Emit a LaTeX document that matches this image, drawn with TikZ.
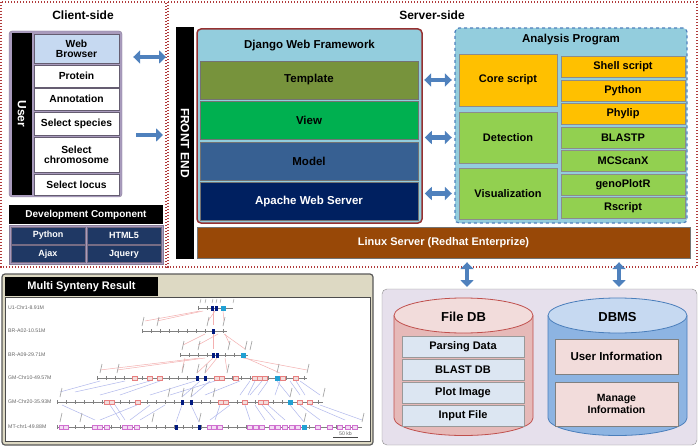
\documentclass[tikz,border=0pt]{standalone}
\usepackage{fontspec}
\setmainfont{Liberation Sans}
\usetikzlibrary{arrows.meta}

\definecolor{framered}{HTML}{B03A3A}
\definecolor{arrowblue}{HTML}{4F81BD}
\definecolor{skyfill}{HTML}{93CDDD}
\definecolor{olive}{HTML}{77933C}
\definecolor{vgreen}{HTML}{00B050}
\definecolor{steel}{HTML}{376092}
\definecolor{navy}{HTML}{002060}
\definecolor{rust}{HTML}{984807}
\definecolor{gold}{HTML}{FFC000}
\definecolor{lime}{HTML}{92D050}
\definecolor{lavender}{HTML}{E6E0EC}
\definecolor{lavgray}{HTML}{A99BBD}
\definecolor{devnavy}{HTML}{1F3864}
\definecolor{beige}{HTML}{DDD9C3}
\definecolor{wbblue}{HTML}{C6D9F1}
\definecolor{fdbbody}{HTML}{E6B9B8}
\definecolor{fdbtop}{HTML}{F2DCDB}
\definecolor{fdbedge}{HTML}{C0504D}
\definecolor{dbmsbody}{HTML}{8DB4E2}
\definecolor{dbmstop}{HTML}{C6D9F1}
\definecolor{dbmsedge}{HTML}{4A7EBB}
\definecolor{fileblue}{HTML}{DCE6F2}
\definecolor{genepink}{HTML}{E88080}
\definecolor{geneviolet}{HTML}{D070D0}
\definecolor{linkpink}{HTML}{F4B0B0}
\definecolor{linkblue}{HTML}{B0B8EC}

\tikzset{
  frame/.style={draw=framered, line width=1.2pt, dash pattern=on 1.2pt off 1.8pt},
  title/.style={font=\bfseries\fontsize{12}{14}\selectfont},
  subtitle/.style={font=\bfseries\fontsize{11.5}{13}\selectfont},
  bar/.style={fill=black, text=white, inner sep=0pt, rotate=-90,
    font=\bfseries\fontsize{12}{14}\selectfont},
  panel/.style={fill=lavgray, draw=lavgray!80!black, rounded corners=3pt, inner sep=0pt},
  item/.style={draw=lavgray!60!black, fill=white, minimum width=85, inner sep=0pt,
    align=center, font=\bfseries\fontsize{10.3}{12}\selectfont},
  devtitle/.style={fill=black, text=white, minimum width=154, minimum height=19,
    inner sep=0pt, font=\bfseries\fontsize{10}{12}\selectfont},
  devcell/.style={fill=devnavy, draw=lavgray!70!black, text=white, minimum width=74,
    minimum height=17, inner sep=0pt, font=\bfseries\fontsize{9}{10}\selectfont},
  layer/.style={draw=black!55, minimum width=218, minimum height=38, inner sep=0pt,
    font=\bfseries\fontsize{11.5}{13}\selectfont},
  task/.style={draw=black!45, minimum width=98, inner sep=0pt,
    font=\bfseries\fontsize{11}{13}\selectfont},
  tool/.style={draw=black!45, minimum width=124, minimum height=21, inner sep=0pt,
    font=\bfseries\fontsize{11}{13}\selectfont},
  dbtitle/.style={font=\bfseries\fontsize{13}{15}\selectfont},
  fileitem/.style={draw=black!40, fill=fileblue, minimum width=122, minimum height=21,
    inner sep=0pt, font=\bfseries\fontsize{11}{13}\selectfont},
  dbitem/.style={draw=black!50, fill=fdbtop, minimum width=123, inner sep=0pt,
    align=center, font=\bfseries\fontsize{11.5}{13}\selectfont},
  dblarrow/.style={draw=arrowblue, line width=4.5pt,
    {Triangle[length=7pt,width=13pt]}-{Triangle[length=7pt,width=13pt]}},
  onearrow/.style={draw=arrowblue, line width=4.5pt, -{Triangle[length=7pt,width=13pt]}},
  chrlabel/.style={text=black!60, inner sep=0pt, font=\fontsize{5.2}{6}\selectfont},
  chrline/.style={draw=black!50, line width=0.5pt},
  tag/.style={draw=black!35, line width=0.7pt}
}

\begin{document}
\begin{tikzpicture}[x=1pt,y=-1pt]
  \useasboundingbox (0,0) rectangle (700,446);

  % frames
  \draw[frame] (1,2) rectangle (166,267);
  \draw[frame] (168,2) rectangle (697,267);
  \node[title] (cstitle) at (83,15) {Client-side};
  \node[title] (sstitle) at (432,15) {Server-side};

  % client side
  \node[panel, minimum width=113, minimum height=166] (userpanel) at (65.5,114) {};
  \node[bar, minimum width=162, minimum height=20] (user) at (22,114) {User};
  \node[item, fill=wbblue, minimum height=29] (browser) at (76.5,48.5) {Web\\[-2pt]Browser};
  \node[item, minimum height=22] (protein) at (76.5,76) {Protein};
  \node[item, minimum height=22] (annot) at (76.5,99) {Annotation};
  \node[item, minimum height=23] (species) at (76.5,123.5) {Select species};
  \node[item, minimum height=35] (chrom) at (76.5,154.5) {Select\\[-2pt]chromosome};
  \node[item, minimum height=21] (locus) at (76.5,184.5) {Select locus};

  \coordinate (fe-a) at (166,57);
  \coordinate (fe-b) at (163,135);
  \draw[dblarrow, shorten <=11pt] (userpanel.east |- fe-a) -- (fe-a);
  \draw[onearrow, shorten <=14pt] (userpanel.east |- fe-b) -- (fe-b);

  \node[devtitle] (devtitle) at (86,214.5) {Development Component};
  \node[panel, rounded corners=0pt, minimum width=154, minimum height=39] (devgrid) at (86,244.5) {};
  \foreach \n/\t/\x/\y in {py/Python/48/235.5, html/HTML5/124/235.5, ajax/Ajax/48/254, jq/Jquery/124/254}
    \node[devcell] (\n) at (\x,\y) {\t};

  % server side
  \node[bar, minimum width=232, minimum height=18] (frontend) at (185,143) {FRONT END};
  \node[fill=skyfill, draw=framered!85!black, line width=1.5pt, rounded corners=4pt,
    minimum width=225, minimum height=194] (django) at (309.5,126) {};
  \node[subtitle] (djtitle) at (309.5,46) {Django Web Framework};
  \foreach \n/\t/\y/\c/\tc in {template/Template/80/olive/black, view/View/120/vgreen/black,
      model/Model/161/steel/black, apache/Apache Web Server/201.5/navy/white}
    \node[layer, fill=\c, text=\tc] (\n) at (309,\y) {\t};

  \node[layer, fill=rust, text=white, minimum width=493, minimum height=31,
    font=\bfseries\fontsize{11}{13}\selectfont] (linux)
    at (443.5,242.5) {Linux Server (Redhat Enterprize)};

  \node[fill=skyfill, draw=arrowblue, line width=1.2pt, dashed, rounded corners=4pt,
    minimum width=232, minimum height=195] (analysis) at (571,125.5) {};
  \node[subtitle] (antitle) at (571,40) {Analysis Program};
  \node[task, fill=gold, minimum height=52] (core) at (508,80) {Core script};
  \node[task, fill=lime, minimum height=51] (detect) at (508,137.5) {Detection};
  \node[task, fill=lime, minimum height=51] (visual) at (508,193.5) {Visualization};
  \foreach \n/\t/\c [count=\i from 0] in {shell/Shell script/gold, python/Python/gold,
      phylip/Phylip/gold, blastp/BLASTP/lime, mcscanx/MCScanX/lime,
      genoplotr/genoPlotR/lime, rscript/Rscript/lime}
    \node[tool, fill=\c] (\n) at (623,67+23.5*\i) {\t};

  \draw[dblarrow, shorten <=6pt, shorten >=7pt] (template.east) -- (core.west);
  \draw[dblarrow, shorten <=2pt, shorten >=7pt] (django.east |- detect.west) -- (detect.west);
  \draw[dblarrow, shorten <=2pt, shorten >=7pt] (django.east |- visual.west) -- (visual.west);

  % databases
  \node[fill=lavender, draw=black!45, rounded corners=5pt, minimum width=315,
    minimum height=156] (dbpanel) at (539.5,367) {};
  \coordinate (db-a) at (467,289);
  \coordinate (db-b) at (619,289);
  \draw[dblarrow, shorten <=4pt, shorten >=2pt] (linux.south -| db-a) -- (db-a);
  \draw[dblarrow, shorten <=4pt, shorten >=2pt] (linux.south -| db-b) -- (db-b);

  \foreach \cx/\body/\top/\edge in {463.5/fdbbody/fdbtop/fdbedge, 617.5/dbmsbody/dbmstop/dbmsedge} {
    \filldraw[fill=\body, draw=\edge, line width=0.8pt] (\cx-69.5,315.5) -- (\cx-69.5,418)
      arc[start angle=180, end angle=0, x radius=69.5, y radius=17.5] -- (\cx+69.5,315.5);
    \filldraw[fill=\top, draw=\edge, line width=0.8pt] (\cx,315.5) ellipse [x radius=69.5, y radius=17.5];
  }
  \node[dbtitle] (fdb) at (463.5,317) {File DB};
  \node[dbtitle] (dbms) at (617.5,317) {DBMS};
  \foreach \n/\t [count=\i from 0] in {parsing/Parsing Data, blastdb/BLAST DB,
      plotimg/Plot Image, inputfile/Input File}
    \node[fileitem] (\n) at (463,346.5+23*\i) {\t};
  \node[dbitem, minimum height=35] (userinfo) at (616.5,356.5) {User Information};
  \node[dbitem, minimum height=44, font=\bfseries\fontsize{10.5}{12}\selectfont] (manage)
    at (616.5,404) {Manage\\Information};

  % synteny result
  \node[fill=beige, draw=black!65, line width=1.2pt, rounded corners=3pt,
    minimum width=371, minimum height=171] (synpanel) at (187.5,359.5) {};
  \node[fill=white, draw=black!70, minimum width=365, minimum height=144] (synplot) at (187.5,369) {};
  \node[fill=black, text=white, minimum width=153, minimum height=19, inner sep=0pt,
    font=\bfseries\fontsize{11}{13}\selectfont] (syntab) at (81.5,286.5) {Multi Synteny Result};

  % links between chromosomes
  \foreach \xa/\ya/\xb/\yb in {200/311/145/321, 203/311/157/321, 213/311/213/325, 223/311/224/321,
      215/311/208/321, 205/334/183/345, 213/334/213/349, 218/334/198/345, 224/334/245/349,
      225/334/230/345, 200/358/100/370, 205/358/117/370, 185/358/182/370, 213/358/197/373,
      217/358/205/373, 243/358/307/370, 246/358/280/373, 225/358/227/370}
    \draw[linkpink, line width=0.5pt] (\xa,\ya) -- (\xb,\yb);
  \foreach \xa/\ya/\xb/\yb in {100/381/60/392, 125/381/75/392, 150/381/100/395, 160/381/120/395,
      195/381/150/395, 200/381/182/397, 210/381/191/397, 215/381/170/395, 240/381/205/395,
      250/381/240/395, 255/381/248/395, 262/381/250/395, 268/381/258/395, 280/381/275/395,
      290/381/300/395, 296/381/305/395, 300/381/320/395, 277/381/290/397,
      62/405/95/420, 110/405/120/420, 115/405/125/420, 137/405/100/420, 150/405/130/420,
      165/405/140/420, 182/405/176/422, 191/405/199/422, 220/405/215/420, 230/405/210/420,
      245/405/250/420, 255/405/265/420, 262/405/275/420, 268/405/285/420, 290/405/304/422,
      300/405/320/420, 310/405/345/420, 320/405/362/420}
    \draw[linkblue, line width=0.5pt] (\xa,\ya) -- (\xb,\yb);

  % chromosomes
  \foreach \y/\xa/\xb/\lab [count=\r] in {308/198/233/U1-Chr1-8.91M, 331/142/227/BR-A02-10.51M,
      355/180/248/BR-A09-29.71M, 378/97/307/GM-Chr10-49.57M, 402/57/323/GM-Chr20-35.93M,
      427/57/362/MT-chr1-49.88M} {
    \node[chrlabel, anchor=west] (chr\r) at (8,\y) {\lab};
    \draw[chrline] (\xa,\y) -- (\xb,\y);
    \pgfmathsetmacro\xs{\xa+9}
    \foreach \t in {\xa,\xs,...,\xb}
      \draw[chrline] (\t,\y-2) -- (\t,\y+2);
  }
  \foreach \x/\y in {135/378, 150/378, 160/378, 217/378, 222/378, 236/378, 255/378, 260/378,
      265/378, 283/378, 296/378, 107/402, 112/402, 138/402, 221/402, 226/402, 245/402,
      261/402, 266/402, 300/402, 310/402}
    \draw[genepink, fill=fdbtop, line width=0.4pt] (\x-2.5,\y-2) rectangle (\x+2.5,\y+2);
  \foreach \x in {62, 66, 95, 100, 107, 125, 130, 137, 210, 214, 220, 250, 256, 262, 272,
      278, 285, 292, 298, 318, 330, 340, 348, 355}
    \draw[geneviolet, fill=geneviolet!25, line width=0.4pt] (\x-2.5,425) rectangle (\x+2.5,429);
  \foreach \x/\y in {212/308, 216/308, 213/331, 213/355, 217/355, 197/378, 205/378,
      182/402, 191/402, 176/427, 199/427}
    \fill[navy!80!blue] (\x-1.5,\y-2.5) rectangle (\x+1.5,\y+2.5);
  \foreach \x/\y in {223/308, 243/355, 277/378, 290/402, 304/427}
    \fill[cyan!70!teal] (\x-2.5,\y-2.5) rectangle (\x+2.5,\y+2.5);
  \foreach \x/\y in {142/331, 157/331, 207/331, 223/331, 182/355, 198/355, 228/355, 245/355,
      250/355, 100/378, 117/378, 182/378, 197/378, 205/378, 227/378, 277/378, 307/378,
      60/402, 168/402, 182/402, 191/402, 213/402, 290/402, 323/402, 60/427, 80/427,
      152/427, 199/427, 304/427, 362/427}
    \draw[tag] (\x,\y-5) -- ++(2,-9);
  \foreach \x in {200, 205, 212, 216, 220, 233}
    \draw[tag, line width=0.5pt] (\x,303) -- ++(1,-4);
  \draw[black!70, line width=0.6pt] (333,437) -- (358,437);
  \node[chrlabel] (scalebar) at (345.5,433.5) {50 kb};
\end{tikzpicture}
\end{document}
